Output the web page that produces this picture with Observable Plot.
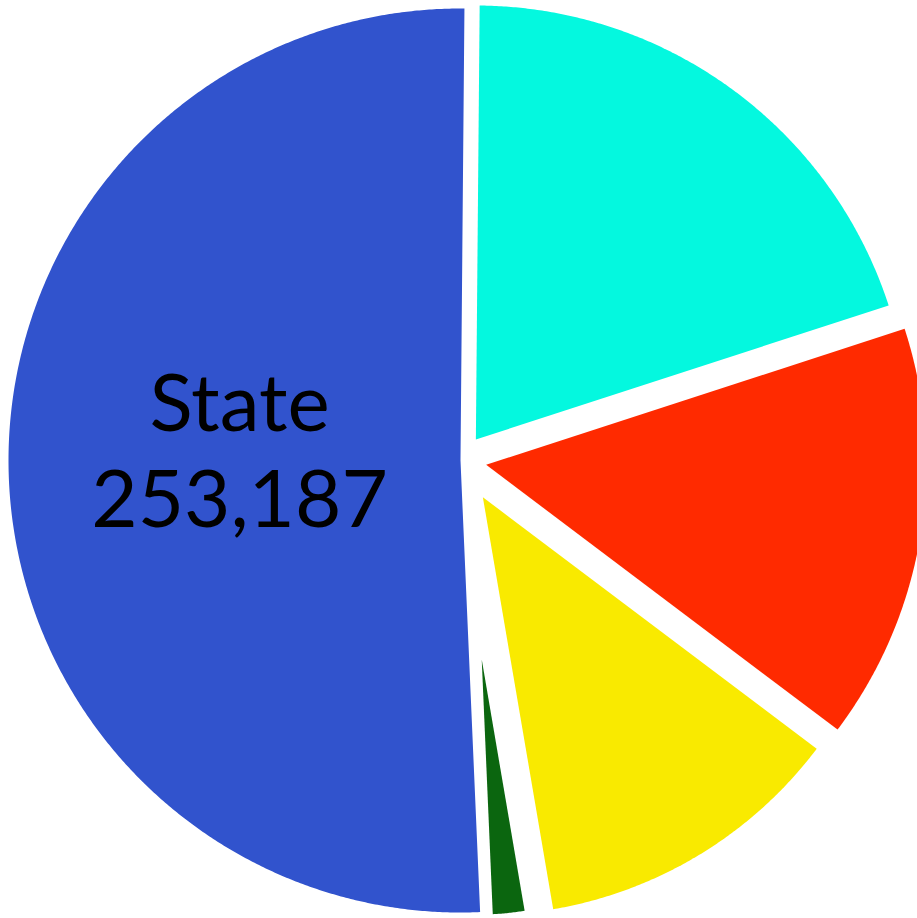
<!DOCTYPE html>
<html>
<head>
<meta charset="utf-8">
<script src="https://cdn.jsdelivr.net/npm/d3@7"></script>
<script src="https://cdn.jsdelivr.net/npm/@observablehq/plot@0.6"></script>
<style>
  html, body { margin: 0; padding: 0; background: #ffffff; }
  #chart { width: 917px; height: 918px; }
</style>
</head>
<body>
<div id="chart"></div>
<script>
// ---- data (only "State" is labelled) ----
const categories = ["Slice 1", "Slice 2", "Slice 3", "Slice 4", "State"];
const values     = [98924, 76110, 59922, 9962, 253187];
const labelled   = ["State"];

// ---- styles ----
const colors   = ["#04F8DF", "#FF2A00", "#F9EA00", "#0B660F", "#3153CD"];
const explode  = [26, 26, 43, 200, 0];     // pull-out distance of each slice
const radii    = [434, 440, 418, 255, 452]; // drawn radius of each slice
const startDeg = 0.5;

const pie = d3.pie().sort(null).value(d => d.value)
  .startAngle(startDeg * Math.PI / 180)
  .endAngle(startDeg * Math.PI / 180 + 2 * Math.PI);

const rows = categories.map((c, i) => ({ key: c, value: values[i], i }));
const arcs = pie(rows);

// polygon outline of every slice, in the chart's own units (y grows downward)
const pts = [];
for (const a of arcs) {
  const i = a.data.i;
  const mid = (a.startAngle + a.endAngle) / 2;
  const ox = explode[i] * Math.sin(mid), oy = -explode[i] * Math.cos(mid);
  pts.push({ key: a.data.key, x: ox, y: oy });
  const n = Math.max(8, Math.ceil((a.endAngle - a.startAngle) * 180));
  for (let k = 0; k <= n; k++) {
    const t = a.startAngle + (a.endAngle - a.startAngle) * k / n;
    pts.push({ key: a.data.key, x: ox + radii[i] * Math.sin(t), y: oy - radii[i] * Math.cos(t) });
  }
  pts.push({ key: a.data.key, x: ox, y: oy });
}

// labels at the centroid of the labelled slices
const labels = arcs.filter(a => labelled.includes(a.data.key)).map(a => {
  const i = a.data.i;
  const mid = (a.startAngle + a.endAngle) / 2;
  const r = radii[i] * 0.5 + explode[i];
  return { x: r * Math.sin(mid), y: -r * Math.cos(mid),
           text: a.data.key + "\n" + d3.format(",")(a.data.value) };
});

const chart = Plot.plot({
  width: 917,
  height: 918,
  margin: 0,
  x: { domain: [-460, 457], axis: null },
  y: { domain: [458, -460], axis: null },
  color: { domain: categories, range: colors },
  style: { background: "#ffffff" },
  marks: [
    Plot.line(pts, { x: "x", y: "y", z: "key", fill: "key", stroke: null, curve: "linear" }),
    Plot.text(labels, {
      x: "x", y: "y", text: "text", dx: 5, dy: -16,
      fontSize: 80, lineHeight: 1.2,
      fontFamily: "'Comic Sans MS', Lato, sans-serif",
      fill: "#000000", textAnchor: "middle"
    })
  ]
});
document.getElementById("chart").appendChild(chart);
</script>
</body>
</html>
